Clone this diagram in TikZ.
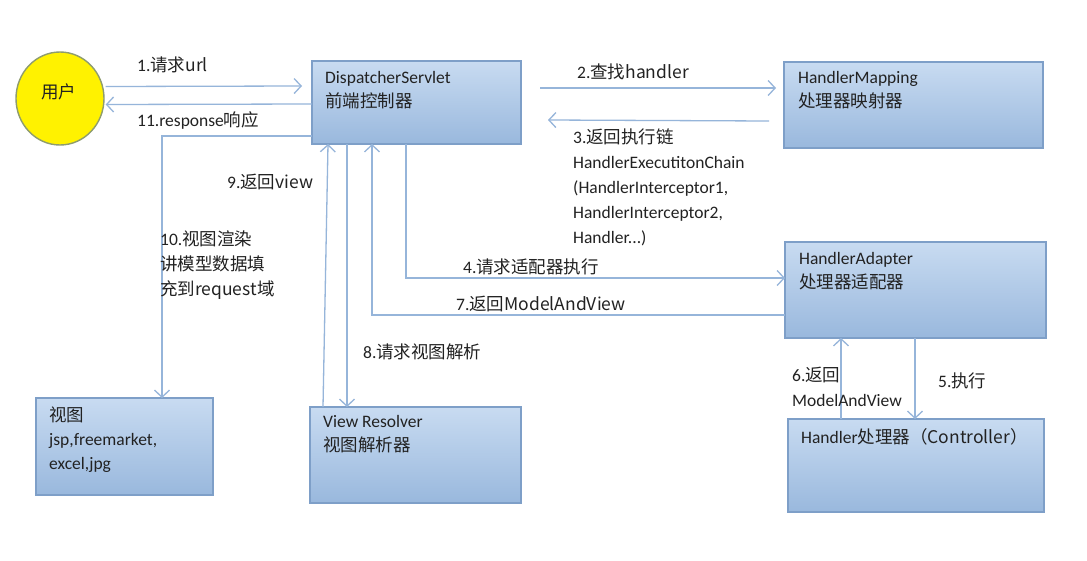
\documentclass[tikz,border=0pt]{standalone}
\usepackage{fontspec}
\setmainfont{Carlito}
\newfontfamily\cjk{Noto Sans CJK SC}
\usetikzlibrary{arrows.meta,calc,positioning,shapes.geometric}

\definecolor{boxtop}{HTML}{C8DBF1}
\definecolor{boxbot}{HTML}{99B8DD}
\definecolor{boxline}{HTML}{7E9FC8}
\definecolor{flowline}{HTML}{96B5DA}
\definecolor{userline}{HTML}{8E9C6E}
\definecolor{txt}{HTML}{222222}

\tikzset{
  box/.style={draw=boxline,line width=1.4pt,top color=boxtop,bottom color=boxbot,
    inner sep=0pt,outer sep=0pt,anchor=north west},
  boxtxt/.style={anchor=west,inner sep=0pt,align=left,text=txt,
    font=\fontsize{17.5}{24}\selectfont},
  lbl/.style={anchor=west,inner sep=0pt,align=left,text=txt,
    font=\fontsize{17.5}{25}\selectfont},
  flow/.style={draw=flowline,line width=1.3pt,-{Straight Barb[length=7pt,width=15pt]}},
}

\begin{document}
\begin{tikzpicture}[x=1pt,y=-1pt]
\useasboundingbox[fill=white] (0,0) rectangle (1087,560);

% boxes
\node[ellipse,draw=userline,line width=1.4pt,fill=yellow,minimum width=88pt,
  minimum height=93pt,inner sep=0pt] (user) at (60,98.5) {};
\node[box,minimum width=209pt,minimum height=83pt] (ds) at (312,61) {};
\node[box,minimum width=259pt,minimum height=86pt] (hm) at (784,62) {};
\node[box,minimum width=261pt,minimum height=96pt] (ha) at (785,242) {};
\node[box,minimum width=256pt,minimum height=93pt] (hd) at (788,419) {};
\node[box,minimum width=177pt,minimum height=97pt] (view) at (36,398) {};
\node[box,minimum width=211pt,minimum height=96pt] (vr) at (310,407) {};

% box texts
\node[lbl,anchor=center] (user-t) at ($(user.center)+(-1,-7)$) {\cjk{用户}};
\node[boxtxt] (ds-t) at ($(ds.north west)+(13,29.5)$) {DispatcherServlet\\\cjk{前端控制器}};
\node[boxtxt] (hm-t) at ($(hm.north west)+(14,28.5)$) {HandlerMapping\\\cjk{处理器映射器}};
\node[boxtxt] (ha-t) at ($(ha.north west)+(14,29)$) {HandlerAdapter\\\cjk{处理器适配器}};
\node[boxtxt] (hd-t) at ($(hd.north west)+(13,18)$) {Handler\cjk{处理器（}Controller\cjk{）}};
\node[boxtxt] (view-t) at ($(view.north west)+(13,42)$) {\cjk{视图}\\jsp,freemarket,\\excel,jpg};
\node[boxtxt] (vr-t) at ($(vr.north west)+(13,27.5)$) {View Resolver\\\cjk{视图解析器}};

% connectors
\draw[flow] ($(user.east)+(1,-12)$) -- ($(ds.north west)+(-10,25)$);
\draw[flow] ($(ds.north west)+(0,43)$) -- ($(user.east)+(1,6)$);
\draw[flow] ($(ds.north west)+(0,75)$) -| ($(view.north west)+(126,0)$);
\draw[flow] ($(ds.north east)+(19,27)$) -- ($(hm.north west)+(-8,26)$);
\draw[flow] ($(hm.north west)+(-15,59)$) -- ($(ds.north east)+(27,59)$);
\draw[flow] ($(ds.south west)+(94,0)$) |- ($(ha.north west)+(0,36)$);
\draw[flow] ($(ha.north west)+(0,73)$) -| ($(ds.south west)+(60,0)$);
\draw[flow] ($(ds.south west)+(35,0)$) -- ($(vr.north west)+(37,0)$);
\draw[flow] ($(vr.north west)+(13,0)$) -- ($(ds.south west)+(16,0)$);
\draw[flow] ($(ha.south west)+(130,0)$) -- ($(hd.north west)+(127,0)$);
\draw[flow] ($(hd.north west)+(53,0)$) -- ($(ha.south west)+(56,0)$);

% labels
\node[lbl] (l1) at (137,65) {1.\cjk{请求}url};
\node[lbl] (l11) at (137,120) {11.response\cjk{响应}};
\node[lbl] (l2) at (577,72) {2.\cjk{查找}handler};
\node[lbl] (l3) at (573,187) {3.\cjk{返回执行链}\\HandlerExecutitonChain\\(HandlerInterceptor1,\\HandlerInterceptor2,\\Handler...)};
\node[lbl] (l9) at (227,182) {9.\cjk{返回}view};
\node[lbl] (l10) at (160,265) {10.\cjk{视图渲染}\\\cjk{讲模型数据填}\\\cjk{充到}request\cjk{域}};
\node[lbl] (l4) at (463,267) {4.\cjk{请求适配器执行}};
\node[lbl] (l7) at (456,304) {7.\cjk{返回}ModelAndView};
\node[lbl] (l8) at (363,352) {8.\cjk{请求视图解析}};
\node[lbl] (l6) at (792,387) {6.\cjk{返回}\\ModelAndView};
\node[lbl] (l5) at (938,381) {5.\cjk{执行}};
\end{tikzpicture}
\end{document}
